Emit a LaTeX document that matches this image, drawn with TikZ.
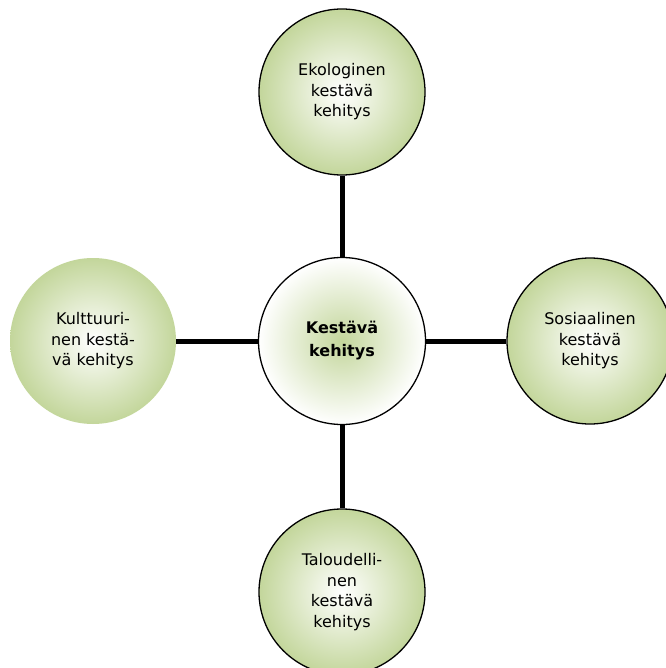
\documentclass[tikz,border=0pt]{standalone}
\usepackage{fontspec}
\setmainfont{DejaVu Sans}
\usepackage{tikz}
\definecolor{leaf}{HTML}{C3D69B}

\begin{document}
\begin{tikzpicture}[x=1pt, y=-1pt,
  goal/.style={circle, minimum size=166pt, inner sep=0pt, inner color=white, outer color=leaf, align=center, font=\fontsize{16}{20.5}\selectfont},
  core/.style={circle, draw, line width=1.3pt, minimum size=167pt, inner sep=0pt, inner color=leaf, outer color=white, align=center, font=\fontsize{16}{23}\selectfont\bfseries},
  link/.style={line width=5pt, black}]
\useasboundingbox (0, 0) rectangle (665, 668);
\node[core] (kest) at (342, 341) {Kestävä\\kehitys};
\node[goal, draw, line width=1.3pt] (eko) at (342, 92) {Ekologinen\\kestävä\\kehitys};
\node[goal, draw, line width=1.3pt] (sos) at (590, 341) {Sosiaalinen\\kestävä\\kehitys};
\node[goal] (kult) at (93, 341) {Kulttuuri-\\nen kestä-\\vä kehitys};
\node[goal, draw, line width=1.3pt] (tal) at (342, 592) {Taloudelli-\\nen\\kestävä\\kehitys};
\draw[link] (kest) -- (eko);
\draw[link] (kest) -- (sos);
\draw[link] (kest) -- (kult);
\draw[link] (kest) -- (tal);
\end{tikzpicture}
\end{document}
